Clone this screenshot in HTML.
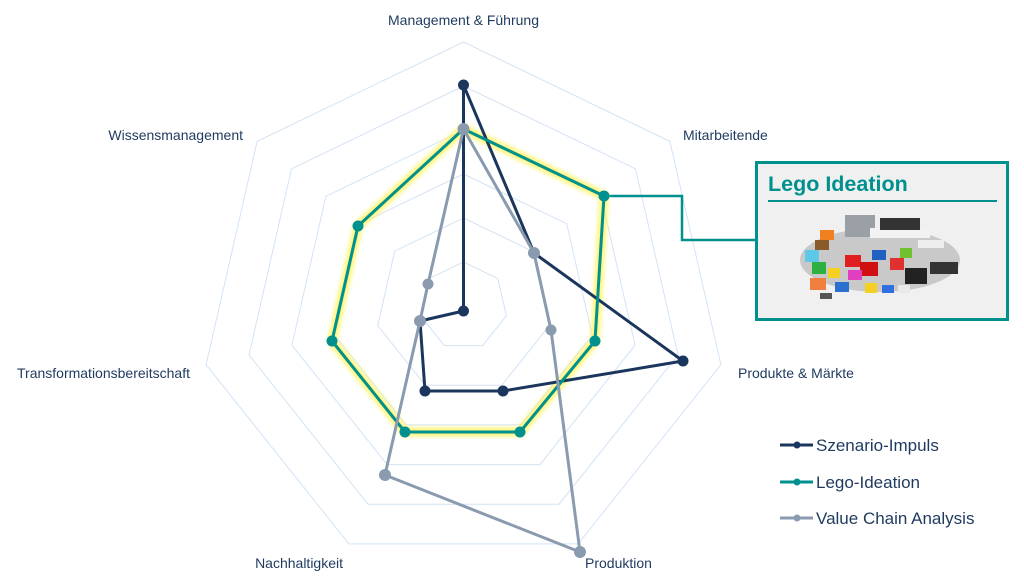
<!DOCTYPE html>
<html><head><meta charset="utf-8"><style>
html,body{margin:0;padding:0;background:#fff;}
svg{display:block;font-family:"Liberation Sans",Arial,sans-serif;}
</style></head><body>
<svg width="1024" height="582" viewBox="0 0 1024 582" xmlns="http://www.w3.org/2000/svg">
<defs>
<filter id="gl" x="-20%" y="-20%" width="140%" height="140%"><feGaussianBlur stdDeviation="2"/></filter>
</defs>
<g fill="none" stroke="#d3e3f5" stroke-width="1">
<g transform="translate(463.5,306)">
<polygon points="0,-44 34.4,-27.4 42.9,9.8 19.1,39.6 -19.1,39.6 -42.9,9.8 -34.4,-27.4"/>
<polygon points="0,-88 68.8,-54.9 85.8,19.6 38.2,79.3 -38.2,79.3 -85.8,19.6 -68.8,-54.9"/>
<polygon points="0,-132 103.2,-82.3 128.7,29.4 57.3,118.9 -57.3,118.9 -128.7,29.4 -103.2,-82.3"/>
<polygon points="0,-176 137.6,-109.7 171.6,39.2 76.4,158.6 -76.4,158.6 -171.6,39.2 -137.6,-109.7"/>
<polygon points="0,-220 172,-137.2 214.5,49 95.5,198.2 -95.5,198.2 -214.5,49 -172,-137.2"/>
<polygon points="0,-264 206.4,-164.6 257.4,58.7 114.6,237.9 -114.6,237.9 -257.4,58.7 -206.4,-164.6"/>
</g>
</g>
<polyline points="604,196 682,196 682,240 757,240" fill="none" stroke="#00918e" stroke-width="2.5"/>
<polygon points="463.5,129 604,196 595,341 520,432 405,432 332,341 358,226" fill="none" stroke="#fff14a" stroke-width="9" stroke-linejoin="round" opacity="0.75" filter="url(#gl)"/>
<g stroke="#1b365d" stroke-width="3" fill="#1b365d">
<polygon points="463.5,85 534,253 683,361 503,391 425,391 420,321 463.5,311" fill="none" stroke-linejoin="round"/>
<circle cx="463.5" cy="85" r="4"/><circle cx="534" cy="253" r="4"/><circle cx="683" cy="361" r="4"/><circle cx="503" cy="391" r="4"/><circle cx="425" cy="391" r="4"/><circle cx="463.5" cy="311" r="4"/>
</g>
<g stroke="#00918e" stroke-width="3" fill="#00918e">
<polygon points="463.5,129 604,196 595,341 520,432 405,432 332,341 358,226" fill="none" stroke-linejoin="round"/>
<circle cx="604" cy="196" r="4"/><circle cx="595" cy="341" r="4"/><circle cx="520" cy="432" r="4"/><circle cx="405" cy="432" r="4"/><circle cx="332" cy="341" r="4"/><circle cx="358" cy="226" r="4"/>
</g>
<g stroke="#8a9bb0" stroke-width="3" fill="#8a9bb0">
<polygon points="463.5,129 534,253 551,330 580,552 385,475 420,321 428,284" fill="none" stroke-linejoin="round"/>
<circle cx="463.5" cy="129" r="4.5"/><circle cx="534" cy="253" r="4.5"/><circle cx="551" cy="330" r="4"/><circle cx="580" cy="552" r="4.5"/><circle cx="385" cy="475" r="4.5"/><circle cx="420" cy="321" r="4.5"/><circle cx="428" cy="284" r="4"/>
</g>
<g fill="#1f3a5f" font-size="14">
<text x="463.5" y="25" text-anchor="middle">Management &amp; Führung</text>
<text x="683" y="140">Mitarbeitende</text>
<text x="738" y="378">Produkte &amp; Märkte</text>
<text x="585" y="568">Produktion</text>
<text x="343" y="568" text-anchor="end">Nachhaltigkeit</text>
<text x="190" y="378" text-anchor="end">Transformationsbereitschaft</text>
<text x="243" y="140" text-anchor="end">Wissensmanagement</text>
</g>
<g font-size="17" fill="#1f3a5f">
<line x1="780" y1="445" x2="813" y2="445" stroke="#1b365d" stroke-width="3"/><circle cx="797" cy="445" r="3.5" fill="#1b365d"/>
<text x="816" y="451">Szenario-Impuls</text>
<line x1="780" y1="482" x2="813" y2="482" stroke="#00918e" stroke-width="3"/><circle cx="797" cy="482" r="3.5" fill="#00918e"/>
<text x="816" y="488">Lego-Ideation</text>
<line x1="780" y1="518" x2="813" y2="518" stroke="#8a9bb0" stroke-width="3"/><circle cx="797" cy="518" r="3.5" fill="#8a9bb0"/>
<text x="816" y="524">Value Chain Analysis</text>
</g>
<rect x="756.5" y="162.5" width="251" height="157" fill="#f0f0f0" stroke="#00918e" stroke-width="3"/>
<text x="768" y="191" font-size="21.5" font-weight="bold" fill="#00918e">Lego Ideation</text>
<line x1="768" y1="201" x2="997" y2="201" stroke="#00918e" stroke-width="2"/>
<g>
<ellipse cx="880" cy="260" rx="80" ry="32" fill="#c9c9c9"/>
<rect x="845" y="215" width="30" height="22" fill="#9aa0a6"/>
<rect x="870" y="228" width="60" height="10" fill="#f2f2f2"/>
<rect x="880" y="218" width="40" height="12" fill="#333"/>
<rect x="815" y="240" width="14" height="10" fill="#8b5a2b"/>
<rect x="820" y="230" width="14" height="10" fill="#f08020"/>
<rect x="805" y="250" width="14" height="12" fill="#5ec8e8"/>
<rect x="812" y="262" width="14" height="12" fill="#2cb040"/>
<rect x="828" y="268" width="12" height="10" fill="#f5d020"/>
<rect x="810" y="278" width="16" height="12" fill="#f08040"/>
<rect x="845" y="255" width="16" height="12" fill="#e02020"/>
<rect x="860" y="262" width="18" height="14" fill="#d01010"/>
<rect x="848" y="270" width="14" height="10" fill="#e040c0"/>
<rect x="835" y="282" width="14" height="10" fill="#2a70d0"/>
<rect x="872" y="250" width="14" height="10" fill="#2060c0"/>
<rect x="890" y="258" width="14" height="12" fill="#e03030"/>
<rect x="900" y="248" width="12" height="10" fill="#70c030"/>
<rect x="905" y="268" width="22" height="16" fill="#222"/>
<rect x="930" y="262" width="28" height="12" fill="#333"/>
<rect x="918" y="240" width="26" height="8" fill="#eee"/>
<rect x="865" y="283" width="12" height="10" fill="#f5d020"/>
<rect x="882" y="285" width="12" height="8" fill="#3070e0"/>
<rect x="898" y="285" width="12" height="8" fill="#e9e9e9"/>
<rect x="820" y="293" width="12" height="6" fill="#555"/>
</g>
</svg>
</body></html>
